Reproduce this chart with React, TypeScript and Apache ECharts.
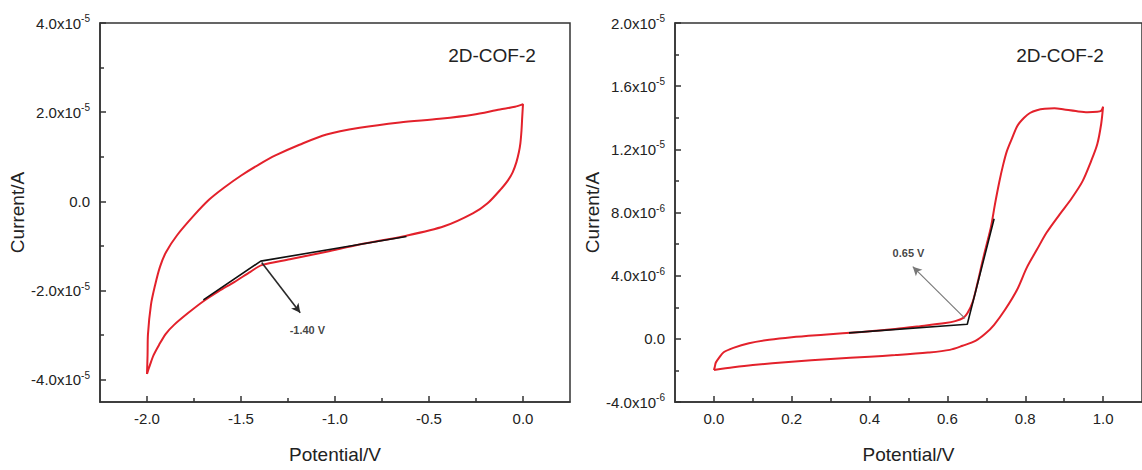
import React, { useEffect, useRef } from "react";
import * as echarts from "echarts";

// Cyclic voltammograms of 2D-COF-2: [potential (V), current]
// Cathodic scan (0 V to -2.0 V and back); currents in units of 1e-5 A.
const cathodicLoop: [number, number][] = [
  [-2.0, -3.87], [-1.997, -3.44], [-1.995, -2.99], [-1.979, -2.32], [-1.957, -1.88],
  [-1.931, -1.47], [-1.899, -1.14], [-1.84, -0.76], [-1.749, -0.31], [-1.669, 0.04],
  [-1.589, 0.31], [-1.499, 0.58], [-1.403, 0.83], [-1.317, 1.03], [-1.189, 1.27],
  [-1.045, 1.5], [-0.869, 1.65], [-0.656, 1.77], [-0.443, 1.85],
  [-0.267, 1.94], [-0.123, 2.06], [-0.043, 2.12], [0.0, 2.18],
  [-0.004, 1.9], [-0.008, 1.59], [-0.014, 1.3], [-0.022, 1.1], [-0.035, 0.88],
  [-0.055, 0.65], [-0.08, 0.47], [-0.112, 0.3], [-0.19, -0.05], [-0.267, -0.27],
  [-0.42, -0.56], [-0.62, -0.77], [-0.87, -0.97], [-1.045, -1.13], [-1.24, -1.3],
  [-1.39, -1.43], [-1.45, -1.58], [-1.536, -1.81], [-1.62, -2.02], [-1.7, -2.24],
  [-1.78, -2.5], [-1.856, -2.77], [-1.9, -2.97], [-1.936, -3.22], [-1.965, -3.45],
  [-1.985, -3.68], [-2.0, -3.87],
];

// Anodic scan (0 V to 1.0 V and back); currents in units of 1e-6 A.
const anodicLoop: [number, number][] = [
  [0.0, -1.97], [0.05, -1.8], [0.1, -1.66], [0.2, -1.45], [0.3, -1.28],
  [0.4, -1.13], [0.466, -1.03], [0.55, -0.87], [0.606, -0.7], [0.639, -0.44],
  [0.672, -0.13], [0.697, 0.32], [0.72, 0.89], [0.748, 1.84], [0.779, 3.11],
  [0.804, 4.51], [0.83, 5.65], [0.855, 6.73], [0.888, 7.87], [0.919, 8.89],
  [0.947, 9.97], [0.969, 11.24], [0.985, 12.32], [0.995, 13.59], [1.0, 14.7],
  [0.995, 14.45], [0.985, 14.38], [0.96, 14.35], [0.93, 14.42], [0.9, 14.52],
  [0.875, 14.6], [0.85, 14.57], [0.83, 14.48], [0.812, 14.3], [0.797, 14.0],
  [0.78, 13.5], [0.766, 12.7], [0.753, 11.9], [0.743, 11.0], [0.733, 9.9],
  [0.722, 8.5], [0.712, 7.1], [0.7, 5.9], [0.69, 4.9], [0.677, 3.5],
  [0.665, 2.35], [0.652, 1.65], [0.641, 1.33], [0.62, 1.12], [0.595, 1.0],
  [0.53, 0.8], [0.466, 0.62], [0.38, 0.44], [0.282, 0.26], [0.2, 0.1],
  [0.142, -0.06], [0.09, -0.28], [0.05, -0.57], [0.025, -0.85], [0.013, -1.2],
  [0.005, -1.5], [0.002, -1.8], [0.0, -1.97],
];

// Onset tangents, arrows and labels
const cathodicTangent: [number, number][] = [[-1.7, -2.21], [-1.395, -1.34], [-0.62, -0.79]];
const cathodicArrow: [number, number][] = [[-1.39, -1.37], [-1.185, -2.5]];
const cathodicOnset = { label: "-1.40 V", at: [-1.147, -2.88] as [number, number] };

const anodicTangent: [number, number][] = [[0.347, 0.38], [0.651, 0.92], [0.72, 7.6]];
const anodicArrow: [number, number][] = [[0.645, 1.3], [0.511, 4.57]];
const anodicOnset = { label: "0.65 V", at: [0.5, 5.45] as [number, number] };

// Axis ranges and ticks
const leftXRange = [-2.25, 0.25];
const leftXMajor = [-2.0, -1.5, -1.0, -0.5, 0.0];
const leftXMinor = [-1.75, -1.25, -0.75, -0.25];
const leftYRange = [-4.5e-5, 4.0e-5];
const leftYMajor = [-4e-5, -2e-5, 0, 2e-5, 4e-5];
const leftYMinor = [-3e-5, -1e-5, 1e-5, 3e-5];

const rightXRange = [-0.1, 1.1];
const rightXMajor = [0.0, 0.2, 0.4, 0.6, 0.8, 1.0];
const rightXMinor = [0.1, 0.3, 0.5, 0.7, 0.9];
const rightYRange = [-4e-6, 2e-5];
const rightYMajor = [-4e-6, 0, 4e-6, 8e-6, 1.2e-5, 1.6e-5, 2e-5];
const rightYMinor = [-2e-6, 2e-6, 6e-6, 1e-5, 1.4e-5, 1.8e-5];

const sampleName = "2D-COF-2";
const xName = "Potential/V";
const yName = "Current/A";

const FONT = "'Liberation Sans', Arial, Helvetica, sans-serif";
const RED = "#e3212b";
const AXIS = "#333333";
const TEXT = "#222222";

const scale = (pts: [number, number][], f: number) => pts.map(([v, i]) => [v, i * f]);

function sciLabel(value: number): string {
  if (Math.abs(value) < 1e-15) return "0.0";
  const exp = Math.floor(Math.log10(Math.abs(value)) + 1e-9);
  const mant = value / Math.pow(10, exp);
  return `{b|${mant.toFixed(1)}x10}{s|${exp}}`;
}

const labelRich = {
  b: { fontSize: 15, fontFamily: FONT, color: TEXT },
  s: { fontSize: 10, fontFamily: FONT, color: TEXT, padding: [0, 0, 9, 0] },
};

const tickStyle = { color: AXIS, width: 1.5 };

function xAxes(grid: number, range: number[], major: number[], minor: number[]) {
  return [
    {
      type: "value", gridIndex: grid, position: "bottom", min: range[0], max: range[1],
      name: xName, nameLocation: "middle", nameGap: 43,
      nameTextStyle: { fontSize: 19, fontFamily: FONT, color: TEXT },
      axisLine: { show: true, onZero: false, lineStyle: { color: AXIS, width: 1.5 } },
      axisTick: { show: true, inside: true, length: 6, customValues: major, lineStyle: tickStyle },
      axisLabel: { customValues: major, formatter: (v: number) => v.toFixed(1), fontSize: 15, fontFamily: FONT, color: TEXT, margin: 9 },
      splitLine: { show: false },
    },
    {
      type: "value", gridIndex: grid, position: "bottom", min: range[0], max: range[1],
      axisLine: { show: false, onZero: false },
      axisTick: { show: true, inside: true, length: 4, customValues: minor, lineStyle: tickStyle },
      axisLabel: { show: false },
      splitLine: { show: false },
    },
  ];
}

function yAxes(grid: number, range: number[], major: number[], minor: number[]) {
  return [
    {
      type: "value", gridIndex: grid, position: "left", min: range[0], max: range[1],
      name: yName, nameLocation: "middle", nameGap: 66,
      nameTextStyle: { fontSize: 19, fontFamily: FONT, color: TEXT },
      axisLine: { show: true, onZero: false, lineStyle: { color: AXIS, width: 1.5 } },
      axisTick: { show: true, inside: true, length: 6, customValues: major, lineStyle: tickStyle },
      axisLabel: { customValues: major, formatter: sciLabel, rich: labelRich, fontSize: 15, fontFamily: FONT, color: TEXT, margin: 10 },
      splitLine: { show: false },
    },
    {
      type: "value", gridIndex: grid, position: "left", min: range[0], max: range[1],
      axisLine: { show: false, onZero: false },
      axisTick: { show: true, inside: true, length: 4, customValues: minor, lineStyle: tickStyle },
      axisLabel: { show: false },
      splitLine: { show: false },
    },
  ];
}

function panelSeries(
  axisIndex: number,
  loop: number[][],
  tangent: number[][],
  arrow: number[][],
  arrowColor: string,
  arrowWidth: number,
  onset: { label: string; at: number[] },
) {
  return [
    {
      type: "line", xAxisIndex: axisIndex, yAxisIndex: axisIndex, data: loop,
      showSymbol: false, smooth: 0.3, lineStyle: { color: RED, width: 2 }, z: 2,
    },
    {
      type: "line", xAxisIndex: axisIndex, yAxisIndex: axisIndex, data: tangent,
      showSymbol: false, lineStyle: { color: "#111111", width: 1.6 }, z: 3,
      markLine: {
        silent: true, symbol: ["none", "arrow"], symbolSize: [7, 9], label: { show: false },
        lineStyle: { color: arrowColor, width: arrowWidth, type: "solid" },
        data: [[{ coord: arrow[0] }, { coord: arrow[1] }]],
      },
    },
    {
      type: "scatter", xAxisIndex: axisIndex, yAxisIndex: axisIndex, data: [onset.at],
      symbolSize: 1, itemStyle: { color: "rgba(0,0,0,0)" }, z: 4,
      label: {
        show: true, position: "inside", formatter: onset.label,
        fontSize: 11, fontWeight: "bold", fontFamily: FONT, color: "#111111",
      },
    },
  ];
}

export default function App() {
  const ref = useRef<HTMLDivElement>(null);

  useEffect(() => {
    if (!ref.current) return;
    const chart = echarts.init(ref.current, undefined, { renderer: "svg" });
    chart.setOption({
      animation: false,
      backgroundColor: "#ffffff",
      grid: [
        { left: 100, top: 23, width: 470, height: 379, show: true, borderColor: AXIS, borderWidth: 1.5 },
        { left: 675, top: 23, width: 471, height: 379, show: true, borderColor: AXIS, borderWidth: 1.5 },
      ],
      xAxis: [
        ...xAxes(0, leftXRange, leftXMajor, leftXMinor),
        ...xAxes(1, rightXRange, rightXMajor, rightXMinor),
      ],
      yAxis: [
        ...yAxes(0, leftYRange, leftYMajor, leftYMinor),
        ...yAxes(1, rightYRange, rightYMajor, rightYMinor),
      ],
      graphic: [
        { type: "text", x: 492, y: 55, style: { text: sampleName, fontSize: 19, fontFamily: FONT, fill: TEXT, align: "center", verticalAlign: "middle" } },
        { type: "text", x: 1060, y: 55, style: { text: sampleName, fontSize: 19, fontFamily: FONT, fill: TEXT, align: "center", verticalAlign: "middle" } },
      ],
      series: [
        ...panelSeries(0, scale(cathodicLoop, 1e-5), scale(cathodicTangent, 1e-5), scale(cathodicArrow, 1e-5), "#2a2a2a", 1.6,
          { label: cathodicOnset.label, at: [cathodicOnset.at[0], cathodicOnset.at[1] * 1e-5] }),
        ...panelSeries(2, scale(anodicLoop, 1e-6), scale(anodicTangent, 1e-6), scale(anodicArrow, 1e-6), "#777777", 1.1,
          { label: anodicOnset.label, at: [anodicOnset.at[0], anodicOnset.at[1] * 1e-6] }),
      ],
    });
    return () => chart.dispose();
  }, []);

  return (
    <div
      ref={ref}
      style={{ position: "absolute", left: 0, top: 0, width: 1142, height: 470, background: "#fff" }}
    />
  );
}
